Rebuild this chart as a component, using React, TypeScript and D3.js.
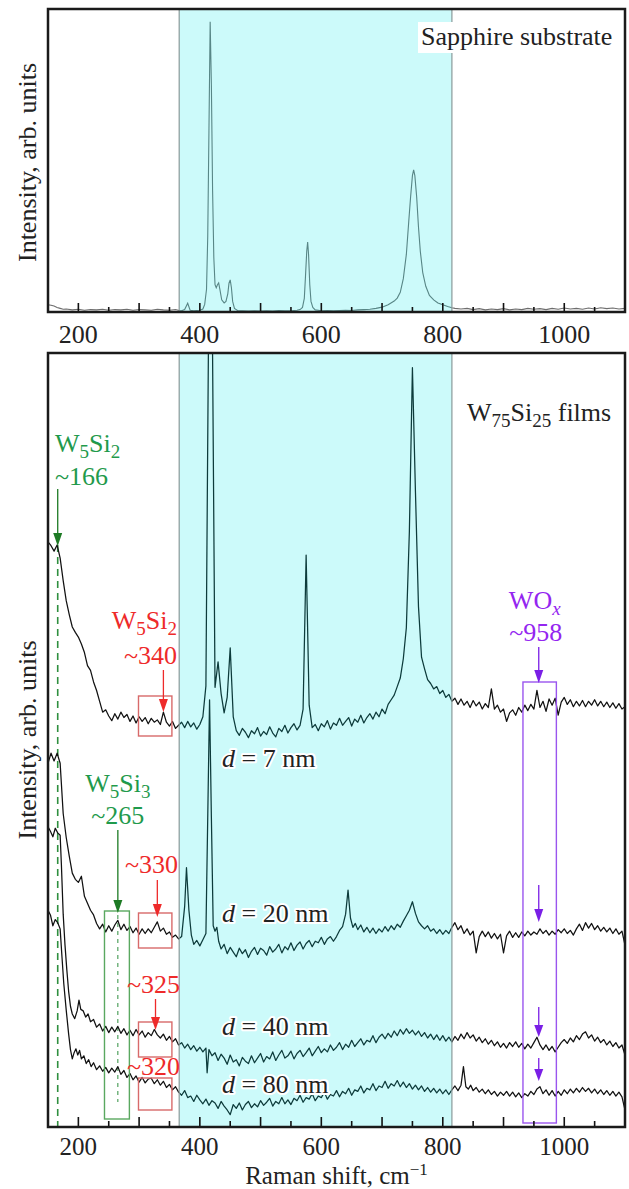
import React from "react";
import * as d3 from "d3";

// ---------- data (Raman shift cm^-1, intensity arb. units 0..100 of panel) ----------
const majorTicks = [200, 400, 600, 800, 1000];
const substrateBand = [366, 815];

const sapphire: [number, number][] = [
  [150,2.4],[155,2.2],[160,2.0],[165,1.5],[170,1.2],[175,0.9],[180,1.0],[190,0.7],[200,0.9],[210,0.6],[220,0.8],[230,0.7],[240,0.9],[250,0.6],[260,0.8],[270,0.7],[280,0.9],[290,0.6],[300,0.8],[310,0.7],[320,0.6],[330,0.9],[340,0.7],[350,0.6],[360,0.8],[366,0.5],[370,0.4],[375,0.8],[380,2.9],[384,0.6],[390,0.4],[395,0.5],[400,0.6],[405,1.0],[408,2.5],[411,7.5],[413,25],[415,60],[417,95.8],[419,75],[421,40],[423,18],[425,9],[427,8.0],[429,9.0],[431,9.6],[433,7.5],[436,4.0],[440,3.0],[443,3.5],[446,6.0],[448,9.5],[450,10.6],[452,8.0],[454,3.5],[457,1.2],[462,0.5],[470,0.4],[480,0.3],[490,0.4],[500,0.3],[510,0.4],[520,0.3],[530,0.5],[540,0.4],[550,0.4],[560,0.6],[565,0.8],[569,1.5],[572,4.5],[574,12],[576,20],[577.5,23.1],[579,19],[581,9],[583,3.5],[586,1.5],[590,0.7],[600,0.4],[610,0.5],[620,0.4],[630,0.5],[640,0.6],[650,0.5],[660,0.7],[670,0.8],[680,0.9],[690,1.2],[700,1.6],[710,2.4],[720,3.6],[725,4.6],[730,6.5],[735,11],[740,19],[744,30],[747,38],[750,45],[752,46.9],[754,45],[757,38],[760,28],[763,20],[767,13],[772,8.5],[778,5.5],[785,4.0],[792,3.0],[800,2.4],[808,1.8],[815,1.4],[820,1.2],[830,1.0],[840,1.2],[850,0.8],[860,1.1],[870,0.7],[880,1.0],[890,0.8],[900,1.1],[910,0.7],[920,1.0],[930,0.8],[940,1.2],[950,0.9],[960,1.1],[970,0.8],[980,1.2],[990,0.9],[1000,1.3],[1010,1.0],[1020,1.2],[1030,0.9],[1040,1.3],[1050,1.0],[1060,1.4],[1070,1.1],[1080,1.3],[1090,1.0],[1100,1.2]
];

const film7nm: [number, number][] = [
  [150,75.6],[155,75.1],[160,74.4],[165,75.2],[170,73.5],[175,70.6],[180,68.0],[185,66.2],[190,64.6],[195,63.9],[200,63.3],[205,62.4],[210,61.3],[215,59.6],[220,59.0],[225,57.5],[230,56.4],[235,55.0],[240,53.6],[245,53.9],[250,53.1],[255,52.5],[260,53.4],[265,52.7],[270,53.6],[275,52.9],[280,53.3],[285,52.4],[290,53.1],[295,52.2],[300,53.0],[305,52.4],[310,52.9],[315,52.1],[320,52.8],[325,52.3],[330,52.6],[335,52.0],[340,53.6],[345,52.3],[350,51.8],[355,52.4],[360,51.5],[365,51.9],[370,52.3],[375,51.6],[380,52.4],[385,51.7],[390,52.2],[395,51.4],[400,52.0],[405,53.0],[410,57.0],[415,110],[420,110],[425,56.8],[430,60.1],[435,56.0],[440,53.5],[445,55.5],[450,61.9],[455,53.0],[460,51.2],[465,50.6],[470,51.5],[475,51.0],[480,50.3],[485,51.2],[490,50.8],[495,51.6],[500,50.5],[505,51.1],[510,50.7],[515,51.7],[520,50.9],[525,50.4],[530,51.5],[535,51.1],[540,51.9],[545,50.9],[550,51.6],[555,52.1],[560,51.3],[565,51.9],[570,54.0],[575,73.9],[580,54.5],[585,51.6],[590,52.0],[595,51.2],[600,52.1],[605,51.7],[610,52.5],[615,51.4],[620,52.2],[625,51.9],[630,52.8],[635,51.9],[640,52.4],[645,52.9],[650,51.8],[655,52.7],[660,52.3],[665,53.2],[670,52.2],[675,52.9],[680,53.4],[685,52.7],[690,53.6],[695,53.0],[700,54.0],[705,53.4],[710,54.6],[715,55.2],[720,55.8],[725,56.9],[730,58.0],[735,60.5],[740,64.5],[745,77.0],[750,98.1],[755,82.0],[760,67.2],[765,60.7],[770,59.2],[775,57.8],[780,57.3],[785,56.6],[790,56.9],[795,56.0],[800,56.4],[805,55.5],[810,55.9],[815,55.0],[820,55.4],[825,54.6],[830,55.3],[835,54.5],[840,55.0],[845,54.2],[850,55.1],[855,54.4],[860,54.9],[865,54.0],[870,54.7],[875,54.2],[880,56.6],[885,54.0],[890,54.5],[895,53.6],[900,54.0],[905,52.4],[910,53.5],[915,53.9],[920,53.2],[925,54.2],[930,53.6],[935,54.5],[940,53.8],[945,54.6],[950,54.0],[955,56.4],[960,54.2],[965,55.0],[970,53.7],[975,55.3],[980,54.5],[985,55.4],[990,53.2],[995,54.9],[1000,55.5],[1005,54.6],[1010,55.2],[1015,54.3],[1020,55.0],[1025,54.4],[1030,55.1],[1035,54.3],[1040,55.0],[1045,54.5],[1050,55.2],[1055,54.4],[1060,55.0],[1065,54.3],[1070,54.9],[1075,54.2],[1080,54.8],[1085,54.1],[1090,54.7],[1095,54.0],[1100,54.3]
];

const film20nm: [number, number][] = [
  [150,47.0],[155,48.3],[160,47.3],[165,48.3],[170,47.0],[175,40.5],[180,37.4],[185,35.0],[190,32.8],[195,32.0],[200,31.6],[205,32.4],[210,29.8],[215,28.9],[220,28.0],[225,27.4],[230,26.3],[235,25.6],[240,26.2],[245,25.2],[250,26.0],[255,25.3],[260,26.1],[265,26.7],[270,25.5],[275,26.2],[280,25.4],[285,25.9],[290,25.1],[295,25.7],[300,24.9],[305,25.6],[310,25.0],[315,25.6],[320,25.1],[325,25.8],[330,26.5],[335,25.3],[340,25.7],[345,24.9],[350,25.2],[355,24.5],[360,24.8],[365,24.3],[370,24.6],[375,28.5],[378,33.5],[382,28.0],[386,24.8],[390,23.6],[395,24.1],[400,23.4],[405,24.2],[410,25.0],[413,40.0],[416,55.2],[419,40.0],[422,26.0],[425,25.3],[428,25.8],[431,24.0],[435,23.0],[440,23.6],[445,22.4],[450,23.2],[455,22.6],[460,22.0],[465,23.1],[470,22.4],[475,22.9],[480,21.9],[485,22.7],[490,23.2],[495,22.3],[500,23.1],[505,22.8],[510,22.2],[515,23.3],[520,22.6],[525,23.0],[530,23.6],[535,22.5],[540,23.3],[545,22.9],[550,23.8],[555,22.8],[560,23.5],[565,23.9],[570,23.0],[575,23.7],[580,24.1],[585,23.3],[590,24.0],[595,23.8],[600,24.5],[605,23.6],[610,24.3],[615,24.6],[620,24.0],[625,24.6],[630,25.4],[635,25.9],[640,27.5],[644,30.6],[648,27.0],[652,25.8],[656,26.3],[660,25.5],[665,26.1],[670,25.2],[675,25.8],[680,25.1],[685,25.7],[690,25.0],[695,25.6],[700,25.2],[705,25.9],[710,25.3],[715,26.0],[720,25.5],[725,26.2],[730,25.8],[735,26.6],[740,27.3],[745,28.0],[750,29.1],[755,27.6],[760,26.5],[765,26.0],[770,25.6],[775,26.0],[780,25.3],[785,25.6],[790,25.0],[795,25.5],[800,24.9],[805,25.4],[810,25.0],[815,25.8],[820,26.4],[825,25.5],[830,26.0],[835,25.0],[840,25.6],[845,24.8],[850,25.3],[855,22.5],[860,24.6],[865,25.3],[870,24.6],[875,25.2],[880,24.4],[885,25.0],[890,24.3],[895,24.9],[900,22.5],[905,24.7],[910,25.3],[915,24.5],[920,25.1],[925,24.5],[930,25.2],[935,24.7],[940,25.3],[945,24.8],[950,25.2],[955,24.9],[960,25.6],[965,25.0],[970,25.4],[975,24.8],[980,25.3],[985,24.9],[990,25.5],[995,25.1],[1000,25.6],[1005,25.0],[1010,25.4],[1015,24.8],[1020,25.6],[1025,26.2],[1030,25.4],[1035,26.4],[1040,25.7],[1045,26.3],[1050,25.5],[1055,26.0],[1060,25.3],[1065,25.8],[1070,25.2],[1075,25.7],[1080,25.0],[1085,25.6],[1090,24.9],[1095,25.3],[1100,23.5]
];

const film40nm: [number, number][] = [
  [150,38.8],[154,38.2],[158,37.5],[162,38.6],[166,38.0],[170,37.7],[172,34.0],[175,27.5],[178,23.5],[181,20.3],[184,17.5],[187,15.6],[190,14.6],[194,14.0],[198,15.0],[201,16.4],[204,15.2],[208,15.0],[212,14.2],[216,14.6],[220,13.6],[225,13.9],[230,12.9],[235,13.3],[240,12.4],[245,13.0],[250,12.2],[255,12.9],[260,12.3],[265,13.0],[270,12.1],[275,12.7],[280,11.9],[285,12.5],[290,11.8],[295,12.6],[300,11.9],[305,12.4],[310,11.6],[315,12.2],[320,11.8],[325,12.6],[330,11.9],[335,11.5],[340,12.0],[345,11.2],[350,11.7],[355,11.0],[360,11.4],[365,10.6],[370,10.9],[375,10.2],[380,10.7],[385,10.0],[390,10.5],[395,9.8],[400,10.3],[405,9.7],[410,10.2],[412,7.0],[415,10.0],[420,9.2],[425,9.6],[430,8.6],[435,9.4],[440,8.9],[445,8.1],[450,9.3],[455,8.4],[460,8.7],[465,7.9],[470,9.0],[475,8.5],[480,8.2],[485,9.2],[490,8.3],[495,8.9],[500,9.5],[505,8.4],[510,9.1],[515,8.8],[520,9.7],[525,8.6],[530,9.3],[535,9.9],[540,8.9],[545,9.2],[550,9.8],[555,8.8],[560,9.5],[565,9.9],[570,9.1],[575,9.6],[580,10.2],[585,9.2],[590,9.8],[595,10.4],[600,9.6],[605,10.1],[610,9.7],[615,10.6],[620,9.9],[625,10.3],[630,10.9],[635,10.0],[640,10.7],[645,10.3],[650,11.2],[655,10.4],[660,10.9],[665,11.4],[670,10.6],[675,11.2],[680,11.0],[685,11.8],[690,10.9],[695,11.6],[700,12.0],[705,11.4],[710,12.1],[715,11.6],[720,12.4],[725,11.8],[730,12.6],[735,12.0],[740,12.7],[745,12.1],[750,12.5],[755,11.9],[760,12.4],[765,11.7],[770,12.2],[775,11.5],[780,12.0],[785,11.3],[790,11.9],[795,11.2],[800,11.8],[805,11.1],[810,11.6],[815,11.0],[820,11.7],[825,11.2],[830,12.0],[835,11.4],[840,12.2],[845,11.5],[850,11.9],[855,11.1],[860,11.6],[865,10.9],[870,11.4],[875,10.7],[880,11.2],[885,10.5],[890,11.0],[895,10.3],[900,10.8],[905,10.2],[910,10.9],[915,10.4],[920,11.0],[925,10.3],[930,10.8],[935,10.1],[940,10.7],[945,10.2],[950,10.9],[955,11.6],[960,10.6],[965,10.0],[970,10.6],[975,9.9],[980,10.4],[985,9.7],[990,10.3],[995,10.9],[1000,11.3],[1005,10.8],[1010,11.5],[1015,11.0],[1020,11.8],[1025,11.3],[1030,12.0],[1035,12.3],[1040,11.5],[1045,11.9],[1050,11.1],[1055,11.6],[1060,10.9],[1065,11.3],[1070,10.6],[1075,11.1],[1080,10.4],[1085,10.9],[1090,10.2],[1095,10.6],[1100,9.3]
];

const film80nm: [number, number][] = [
  [150,28.0],[154,27.4],[158,26.0],[162,26.8],[166,26.4],[170,25.6],[173,22.0],[176,18.5],[180,15.1],[184,12.0],[187,10.0],[190,8.8],[193,9.6],[196,10.1],[199,9.3],[202,9.9],[205,8.8],[209,9.2],[213,8.2],[217,8.7],[221,7.8],[225,8.3],[230,7.4],[235,7.9],[240,7.2],[245,7.7],[250,7.0],[255,7.6],[260,7.1],[265,7.8],[270,6.8],[275,7.3],[280,6.4],[285,6.9],[290,6.1],[295,6.6],[300,5.8],[305,6.4],[310,5.7],[315,6.2],[320,6.3],[325,5.6],[330,6.1],[335,5.4],[340,5.9],[345,5.1],[350,5.5],[355,4.8],[360,5.2],[365,4.5],[370,4.1],[375,4.7],[380,3.8],[385,4.0],[390,3.3],[395,4.1],[400,3.5],[405,3.0],[410,3.6],[415,2.8],[420,3.4],[425,3.1],[430,2.4],[435,3.3],[440,2.7],[445,2.2],[450,1.6],[455,2.9],[460,2.4],[465,3.1],[470,2.2],[475,2.9],[480,3.3],[485,2.5],[490,3.0],[495,2.6],[500,3.4],[505,2.8],[510,3.2],[515,3.7],[520,2.7],[525,3.3],[530,3.0],[535,3.8],[540,3.0],[545,3.5],[550,2.9],[555,3.7],[560,3.4],[565,4.1],[570,3.2],[575,3.8],[580,3.6],[585,4.3],[590,3.4],[595,4.0],[600,3.8],[605,4.5],[610,3.6],[615,4.2],[620,4.0],[625,4.7],[630,3.9],[635,4.6],[640,4.3],[645,5.0],[650,4.1],[655,4.8],[660,4.6],[665,5.3],[670,4.4],[675,5.0],[680,4.8],[685,5.6],[690,4.7],[695,5.3],[700,5.1],[705,5.9],[710,5.0],[715,5.6],[720,5.3],[725,6.0],[730,5.2],[735,5.8],[740,5.1],[745,5.6],[750,4.9],[755,5.4],[760,4.8],[765,5.3],[770,4.6],[775,5.1],[780,4.5],[785,5.0],[790,4.4],[795,4.9],[800,4.3],[805,4.8],[810,4.2],[815,4.8],[820,5.3],[825,4.7],[830,5.4],[834,7.8],[838,5.2],[842,4.9],[846,5.4],[850,4.7],[855,5.1],[860,4.5],[865,4.9],[870,4.3],[875,4.8],[880,4.2],[885,4.6],[890,4.0],[895,4.5],[900,4.1],[905,4.6],[910,4.0],[915,4.5],[920,3.9],[925,4.4],[930,3.8],[935,4.3],[940,4.0],[945,4.6],[950,4.2],[955,4.9],[960,5.2],[965,4.3],[970,4.8],[975,4.1],[980,4.7],[985,4.0],[990,4.6],[995,4.1],[1000,4.8],[1005,4.3],[1010,4.9],[1015,4.4],[1020,5.0],[1025,4.5],[1030,5.1],[1035,4.6],[1040,5.0],[1045,4.4],[1050,4.9],[1055,4.3],[1060,4.8],[1065,4.2],[1070,4.7],[1075,4.1],[1080,4.6],[1085,4.0],[1090,4.5],[1095,3.9],[1100,2.2]
];

const filmTraces = [film7nm, film20nm, film40nm, film80nm];
const thicknessLabels = ["7", "20", "40", "80"];
const w5si2Box = [299, 354];
const w5si3Box = [243, 284];
const woxBox = [932, 987];

const FONT = "'Liberation Serif', 'Times New Roman', serif";
const GREEN = "#1f9a4c";
const GREEN_D = "#1d7a24";
const RED = "#ee2a2a";
const RED_BOX = "#d86a6a";
const PURPLE = "#9426f0";
const PURPLE_A = "#7a1fe6";

function Arrow({ x, y1, y2, color, hl = 13, hw = 4.5, sw = 1.3 }: any) {
  return (
    <g>
      <line x1={x} x2={x} y1={y1} y2={y2 - hl + 1} stroke={color} strokeWidth={sw} />
      <path d={`M${x - hw},${y2 - hl} L${x + hw},${y2 - hl} L${x},${y2} Z`} fill={color} />
    </g>
  );
}

function Chem({ parts, ...rest }: any) {
  return (
    <text {...rest}>
      {parts.map((p: any, i: number) => {
        const prevSub = i > 0 && parts[i - 1][1];
        const dy = p[1] ? (prevSub ? 0 : 6) : prevSub ? -6 : 0;
        return (
          <tspan key={i} dy={dy} fontSize={p[1] ? 19 : undefined} fontStyle={p[2] ? "italic" : undefined}>
            {p[0]}
          </tspan>
        );
      })}
    </text>
  );
}

export default function App() {
  const L = 48, R = 625;
  const topT = 9, topB = 312, botT = 353, botB = 1127;
  const x = d3.scaleLinear().domain([150, 1100]).range([L, R]);
  const yTop = d3.scaleLinear().domain([0, 100]).range([topB, topT]);
  const yBot = d3.scaleLinear().domain([0, 100]).range([botB, botT]);
  const lineTop = d3.line<[number, number]>().x((d) => x(d[0])).y((d) => yTop(d[1]));
  const lineBot = d3.line<[number, number]>().x((d) => x(d[0])).y((d) => yBot(d[1]));
  const ticks = d3.range(200, 1100, 50);
  const bx0 = x(substrateBand[0]), bx1 = x(substrateBand[1]);

  const axisTicks = (yb: number, maj: number, min: number) =>
    ticks.map((t) => (
      <line key={t} x1={x(t)} x2={x(t)} y1={yb} y2={yb - (t % 100 === 0 ? maj : min)} stroke="#111" strokeWidth={1.6} />
    ));

  const dLabelY = [767, 922, 1035, 1093];
  const dLabelX = 222;
  const halo = { stroke: "#fff", strokeWidth: 4, paintOrder: "stroke" as any, strokeLinejoin: "round" as any };

  return (
    <svg width={629} height={1189} style={{ position: "absolute", left: 0, top: 0, background: "#fff" }} fontFamily={FONT}>
      <defs>
        <clipPath id="cTop"><rect x={L} y={topT} width={R - L} height={topB - topT} /></clipPath>
        <clipPath id="cBot"><rect x={L} y={botT} width={R - L} height={botB - botT} /></clipPath>
      </defs>
      <rect width={629} height={1189} fill="#fff" />

      {/* ---------- top panel ---------- */}
      <g clipPath="url(#cTop)">
        <path d={lineTop(sapphire) || ""} fill="none" stroke="#6e6e6e" strokeWidth={1.1} />
      </g>
      <rect x={bx0} y={topT} width={bx1 - bx0} height={topB - topT} fill="rgb(0,230,230)" opacity={0.2} />
      <line x1={bx0} x2={bx0} y1={topT} y2={topB} stroke="#8a9a9a" strokeWidth={1.2} />
      <line x1={bx1} x2={bx1} y1={topT} y2={topB} stroke="#8a9a9a" strokeWidth={1.2} />
      <rect x={418} y={22} width={204} height={31} fill="#fff" />
      <text x={421} y={45} fontSize={26} fill="#222">Sapphire substrate</text>
      {axisTicks(topB, 9, 5)}
      <rect x={L} y={topT} width={R - L} height={topB - topT} fill="none" stroke="#1a1a1a" strokeWidth={2.5} />
      {majorTicks.map((t) => (
        <text key={t} x={x(t)} y={343} fontSize={26} textAnchor="middle" fill="#222">{t}</text>
      ))}
      <text transform={`translate(36,${(topT + topB) / 2 + 2}) rotate(-90)`} fontSize={26} textAnchor="middle" fill="#222">
        Intensity, arb. units
      </text>

      {/* ---------- bottom panel ---------- */}
      <line x1={x(166)} x2={x(166)} y1={545} y2={botB} stroke="#2f8f3f" strokeWidth={1.6} strokeDasharray="7,5" />
      <line x1={x(265)} x2={x(265)} y1={915} y2={1102} stroke="#2f8f3f" strokeWidth={1} strokeDasharray="4,4" />
      <g clipPath="url(#cBot)">
        {filmTraces.map((tr, i) => (
          <path key={i} d={lineBot(tr) || ""} fill="none" stroke="#111" strokeWidth={1.25} strokeLinejoin="round" />
        ))}
      </g>
      <rect x={bx0} y={botT} width={bx1 - bx0} height={botB - botT} fill="rgb(0,230,230)" opacity={0.2} />
      <line x1={bx0} x2={bx0} y1={botT} y2={botB} stroke="#8a9a9a" strokeWidth={1.2} />
      <line x1={bx1} x2={bx1} y1={botT} y2={botB} stroke="#8a9a9a" strokeWidth={1.2} />

      {[[696, 736], [913, 948], [1022, 1057], [1078, 1110]].map(([a, b], i) => (
        <rect key={i} x={x(w5si2Box[0])} y={a} width={x(w5si2Box[1]) - x(w5si2Box[0])} height={b - a} fill="none" stroke={RED_BOX} strokeWidth={1.4} />
      ))}
      <rect x={x(w5si3Box[0])} y={911} width={x(w5si3Box[1]) - x(w5si3Box[0])} height={1119 - 911} fill="none" stroke="#5aa860" strokeWidth={1.4} />
      <rect x={x(woxBox[0])} y={682} width={x(woxBox[1]) - x(woxBox[0])} height={1123 - 682} fill="none" stroke="#9a55ee" strokeWidth={1.4} />

      <Chem parts={[["W", 0], ["5", 1], ["Si", 0], ["2", 1]]} x={55} y={452} fontSize={26} fill={GREEN} />
      <text x={55} y={485} fontSize={26} fill={GREEN}>~166</text>
      <Arrow x={x(166)} y1={489} y2={546} color={GREEN_D} />

      <Chem parts={[["W", 0], ["5", 1], ["Si", 0], ["2", 1]]} x={177} y={629} fontSize={26} fill={RED} textAnchor="end" />
      <text x={177} y={664} fontSize={26} fill={RED} textAnchor="end">~340</text>
      <Arrow x={x(340)} y1={670} y2={712} color={RED} />

      <Chem parts={[["W", 0], ["5", 1], ["Si", 0], ["3", 1]]} x={x(265)} y={792} fontSize={26} fill={GREEN} textAnchor="middle" />
      <text x={x(265)} y={824} fontSize={26} fill={GREEN} textAnchor="middle">~265</text>
      <Arrow x={x(265)} y1={830} y2={913} color={GREEN_D} />

      <text x={178} y={873} fontSize={26} fill={RED} textAnchor="end">~330</text>
      <Arrow x={x(330)} y1={880} y2={917} color={RED} />
      <text x={180} y={993} fontSize={26} fill={RED} textAnchor="end">~325</text>
      <Arrow x={x(327)} y1={999} y2={1030} color={RED} />
      <text x={180} y={1075} fontSize={26} fill={RED} textAnchor="end">~320</text>

      <Chem parts={[["WO", 0], ["x", 1, 1]]} x={x(958) - 4} y={609} fontSize={26} fill={PURPLE} textAnchor="middle" />
      <text x={x(958) - 3} y={641} fontSize={26} fill={PURPLE} textAnchor="middle">~958</text>
      <Arrow x={x(958)} y1={647} y2={683} color={PURPLE_A} />
      <Arrow x={x(958)} y1={885} y2={922} color={PURPLE_A} />
      <Arrow x={x(958)} y1={1007} y2={1037} color={PURPLE_A} hl={12} />
      <Arrow x={x(958)} y1={1058} y2={1081} color={PURPLE_A} hl={12} />

      <Chem parts={[["W", 0], ["75", 1], ["Si", 0], ["25", 1], [" films", 0]]} x={467} y={421} fontSize={26} fill="#222" />

      {thicknessLabels.map((t, i) => (
        <text key={t} x={dLabelX} y={dLabelY[i]} fontSize={26} fill="#222" {...halo}>
          <tspan fontStyle="italic">d</tspan> = {t} nm
        </text>
      ))}

      {axisTicks(botB, 10, 6)}
      <rect x={L} y={botT} width={R - L} height={botB - botT} fill="none" stroke="#1a1a1a" strokeWidth={2.5} />
      {majorTicks.map((t) => (
        <text key={t} x={x(t)} y={1155} fontSize={25} textAnchor="middle" fill="#222">{t}</text>
      ))}
      <text transform={`translate(36,740) rotate(-90)`} fontSize={26} textAnchor="middle" fill="#222">
        Intensity, arb. units
      </text>
      <text x={(L + R) / 2} y={1184} fontSize={25} textAnchor="middle" fill="#222">
        Raman shift, cm<tspan dy={-9} fontSize={17}>−1</tspan>
      </text>
    </svg>
  );
}
